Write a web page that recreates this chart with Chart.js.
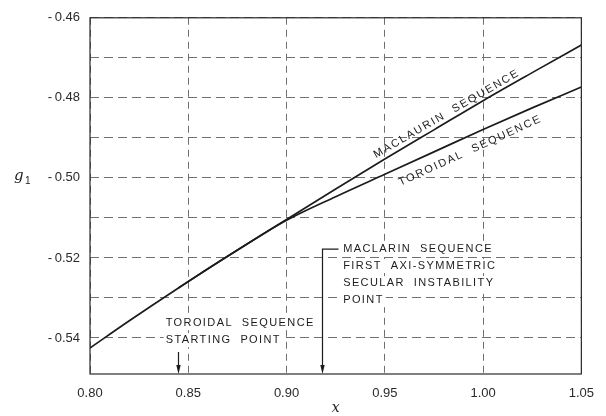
<!DOCTYPE html>
<html>
<head>
<meta charset="utf-8">
<script src="https://cdn.jsdelivr.net/npm/chart.js@4.4.1/dist/chart.umd.min.js"></script>
<style>
  html, body { margin: 0; padding: 0; background: #fff; }
  #wrap { width: 606px; height: 416px; }
</style>
</head>
<body>
<div id="wrap"><canvas id="seqChart" width="606" height="416"></canvas></div>
<script>
//Values
const maclaurinX = [0.80, 0.82, 0.845, 0.87, 0.90, 0.925, 0.95, 0.975, 1.00, 1.025, 1.05];
const maclaurinY = [-0.5425, -0.5357, -0.5275, -0.5196, -0.5104, -0.5028, -0.4953, -0.4880, -0.4807, -0.4737, -0.4668];

const toroidalX = [0.845, 0.87, 0.90, 0.925, 0.95, 0.975, 1.00, 1.025, 1.05];
const toroidalY = [-0.5275, -0.5196, -0.5106, -0.5047, -0.4991, -0.4935, -0.4879, -0.4825, -0.4773];

//Tick values
const xTicks = [0.80, 0.85, 0.90, 0.95, 1.00, 1.05];
const yTicks = [-0.54, -0.53, -0.52, -0.51, -0.50, -0.49, -0.48, -0.47, -0.46];
const yLabelled = [-0.54, -0.52, -0.50, -0.48, -0.46];

//Marked x positions on the bottom axis (toroidal start, maclaurin instability)
const markerX = [0.845, 0.918];

const ink = '#1c1c1c';

//Drawing the frame, axis titles, arrows and notes
const notesPlugin = {
    id: 'notes',
    afterDraw(chart) {
        const ctx = chart.ctx;
        const area = chart.chartArea;
        const xs = chart.scales.x;
        const ys = chart.scales.y;

        ctx.save();
        //frame
        ctx.strokeStyle = '#2a2a2a';
        ctx.lineWidth = 1.2;
        ctx.strokeRect(area.left, area.top, area.right - area.left, area.bottom - area.top);

        //rotated labels along the curves
        ctx.fillStyle = ink;
        ctx.font = '11px "Liberation Sans", Arial, sans-serif';
        ctx.letterSpacing = '1.8px';
        ctx.textAlign = 'center';
        ctx.textBaseline = 'middle';

        ctx.save();
        ctx.translate(xs.getPixelForValue(0.9815), ys.getPixelForValue(-0.4840));
        ctx.rotate(-30 * Math.PI / 180);
        ctx.fillText('MACLAURIN  SEQUENCE', 0, 0);
        ctx.restore();

        ctx.save();
        ctx.translate(xs.getPixelForValue(0.9935), ys.getPixelForValue(-0.4932));
        ctx.rotate(-24.5 * Math.PI / 180);
        ctx.fillText('TOROIDAL  SEQUENCE', 0, 0);
        ctx.restore();

        //notes at the bottom
        ctx.letterSpacing = '1.4px';
        ctx.textAlign = 'left';
        const lineH = 17;
        const drawBlock = (lines, xv, yv) => {
            const px = xs.getPixelForValue(xv);
            const py = ys.getPixelForValue(yv);
            lines.forEach((t, i) => {
                const w = ctx.measureText(t).width;
                ctx.fillStyle = '#fff';
                ctx.fillRect(px - 2, py + i * lineH - 7, w + 4, 14);
                ctx.fillStyle = ink;
                ctx.fillText(t, px, py + i * lineH);
            });
        };
        drawBlock(['TOROIDAL  SEQUENCE', 'STARTING  POINT'], 0.8385, -0.5363);
        drawBlock(['MACLARIN  SEQUENCE', 'FIRST  AXI-SYMMETRIC', 'SECULAR  INSTABILITY', 'POINT'], 0.9288, -0.5178);

        //arrows down to the axis
        ctx.strokeStyle = ink;
        ctx.lineWidth = 1.2;
        const arrow = (xv, topV, bracket) => {
            const px = Math.round(xs.getPixelForValue(xv)) + 0.5;
            const top = ys.getPixelForValue(topV);
            ctx.beginPath();
            if (bracket) {
                ctx.moveTo(px + 16, top);
                ctx.lineTo(px, top);
            } else {
                ctx.moveTo(px, top);
            }
            ctx.lineTo(px, area.bottom - 6);
            ctx.stroke();
            ctx.beginPath();
            ctx.moveTo(px - 2.2, area.bottom - 9);
            ctx.lineTo(px + 2.2, area.bottom - 9);
            ctx.lineTo(px, area.bottom);
            ctx.closePath();
            ctx.fill();
        };
        arrow(markerX[0], -0.5435, false);
        arrow(markerX[1], -0.5178, true);

        //axis titles
        ctx.letterSpacing = '0px';
        ctx.fillStyle = ink;
        ctx.textAlign = 'left';
        ctx.textBaseline = 'alphabetic';
        ctx.font = 'italic 15px "DejaVu Serif", "Liberation Serif", serif';
        ctx.fillText('g', 14, ys.getPixelForValue(-0.50) + 2);
        ctx.font = '10px "Liberation Sans", Arial, sans-serif';
        ctx.fillText('1', 25, ys.getPixelForValue(-0.50) + 6);
        ctx.font = 'italic 14px "DejaVu Serif", "Liberation Serif", serif';
        ctx.textAlign = 'center';
        ctx.fillText('x', xs.getPixelForValue(0.925), 412);
        ctx.restore();
    }
};

function renderChart() {
    const data = {
        datasets: [
            {
                label: 'Maclaurin sequence',
                data: maclaurinX.map((x, i) => ({ x: x, y: maclaurinY[i] })),
                borderColor: ink,
                borderWidth: 1.7,
                pointRadius: 0,
                cubicInterpolationMode: 'monotone',
                fill: false
            },
            {
                label: 'Toroidal sequence',
                data: toroidalX.map((x, i) => ({ x: x, y: toroidalY[i] })),
                borderColor: ink,
                borderWidth: 1.7,
                pointRadius: 0,
                cubicInterpolationMode: 'monotone',
                fill: false
            }
        ]
    };

    const gridStyle = {
        color: '#707070',
        lineWidth: 1,
        drawTicks: false
    };

    const config = {
        type: 'line',
        data: data,
        options: {
            responsive: false,
            animation: false,
            layout: { padding: { top: 17, right: 15, left: 0, bottom: 0 } },
            plugins: {
                legend: { display: false },
                tooltip: { enabled: false }
            },
            scales: {
                x: {
                    type: 'linear',
                    min: 0.80,
                    max: 1.05,
                    afterBuildTicks: axis => { axis.ticks = xTicks.map(v => ({ value: v })); },
                    afterFit: axis => { axis.height = 42; },
                    grid: gridStyle,
                    border: { display: false, dash: [7, 5] },
                    ticks: {
                        padding: 12,
                        color: '#2a2a2a',
                        font: { family: '"Liberation Sans", Arial, sans-serif', size: 13 },
                        maxRotation: 0,
                        callback: v => v.toFixed(2)
                    }
                },
                y: {
                    min: -0.549,
                    max: -0.46,
                    afterBuildTicks: axis => { axis.ticks = yTicks.map(v => ({ value: v })); },
                    afterFit: axis => { axis.width = 90; },
                    grid: gridStyle,
                    border: { display: false, dash: [9, 5] },
                    ticks: {
                        padding: 10,
                        color: '#2a2a2a',
                        font: { family: '"Liberation Sans", Arial, sans-serif', size: 13 },
                        callback: v => yLabelled.some(t => Math.abs(t - v) < 1e-9) ? '-\u2009' + Math.abs(v).toFixed(2) : ''
                    }
                }
            }
        },
        plugins: [notesPlugin]
    };

    const ctx = document.getElementById('seqChart').getContext('2d');
    new Chart(ctx, config);
}

renderChart();
</script>
</body>
</html>
